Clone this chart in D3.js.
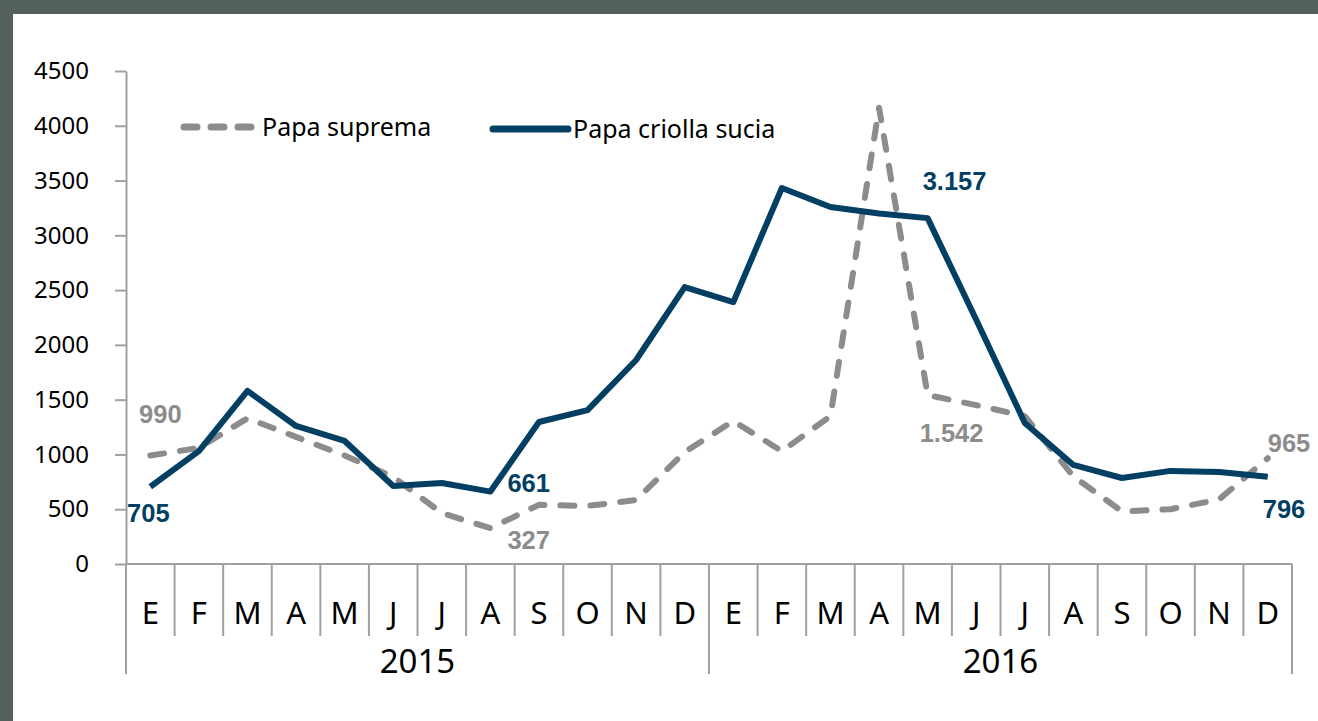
<!DOCTYPE html>
<html>
<head>
<meta charset="utf-8">
<script src="https://cdn.jsdelivr.net/npm/d3@7"></script>
<style>
  html, body { margin: 0; padding: 0; background: #53605c; }
  svg { display: block; }
</style>
</head>
<body>
<div id="chart"></div>
<script>
// Data
var months = ["E", "F", "M", "A", "M", "J", "J", "A", "S", "O", "N", "D",
              "E", "F", "M", "A", "M", "J", "J", "A", "S", "O", "N", "D"];
var years = ["2015", "2016"];
var yTicks = [0, 500, 1000, 1500, 2000, 2500, 3000, 3500, 4000, 4500];
var papaSuprema = [990, 1060, 1330, 1160, 990, 795, 465, 327, 540, 530, 584, 1022,
                   1305, 1030, 1350, 4165, 1542, 1450, 1350, 800, 480, 500, 590, 965];
var papaCriolla = [705, 1030, 1580, 1260, 1123, 712, 740, 661, 1296, 1405, 1862, 2528,
                   2391, 3432, 3258, 3200, 3157, 2230, 1287, 904, 785, 850, 840, 796];
var seriesNames = ["Papa suprema", "Papa criolla sucia"];
// which points carry a value label
var supremaLabelIdx = [0, 7, 16, 23];
var criollaLabelIdx = [0, 7, 16, 23];

(function () {
    var W = 1318, H = 721;
    var GRAY = "#8c8c8c", NAVY = "#023f63", AXIS = "#a0a0a0";

    var svg = d3.select("#chart").append("svg")
        .attr("width", W)
        .attr("height", H);

    // frame + white panel
    svg.append("rect").attr("width", W).attr("height", H).attr("fill", "#53605c");
    svg.append("rect").attr("x", 13).attr("y", 14).attr("width", W - 13).attr("height", H - 14).attr("fill", "#fff");

    var x = d3.scaleBand().domain(d3.range(months.length)).range([126, 1292]);
    var y = d3.scaleLinear().domain([0, 4500]).range([564, 71]);
    var cx = function (i) { return x(i) + x.bandwidth() / 2; };

    // labels use a dot as thousands separator (3.157)
    var fmt = d3.formatLocale({ decimal: ",", thousands: ".", grouping: [3], currency: ["$", ""] }).format(",d");

    // Y axis
    var yAxis = svg.append("g")
        .attr("transform", "translate(126,0)")
        .call(d3.axisLeft(y).tickValues(yTicks).tickFormat(d3.format("d"))
            .tickSize(11).tickPadding(26).tickSizeOuter(0));
    yAxis.select(".domain").attr("stroke", AXIS).attr("stroke-width", 2);
    yAxis.selectAll(".tick line").attr("stroke", AXIS).attr("stroke-width", 2);
    yAxis.selectAll(".tick text")
        .attr("fill", "#000")
        .style("font-family", "'Noto Sans', sans-serif")
        .style("font-size", "24px");

    // X axis baseline
    svg.append("line")
        .attr("x1", 126).attr("x2", 1292)
        .attr("y1", y(0)).attr("y2", y(0))
        .attr("stroke", AXIS).attr("stroke-width", 2);

    // category separators (long ones at year boundaries)
    var bounds = d3.range(months.length + 1);
    svg.append("g").selectAll("line")
        .data(bounds)
        .join("line")
        .attr("x1", function (b) { return x.step() * b + 126; })
        .attr("x2", function (b) { return x.step() * b + 126; })
        .attr("y1", y(0))
        .attr("y2", function (b) { return b % 12 === 0 ? 674 : 636; })
        .attr("stroke", AXIS).attr("stroke-width", 2);

    // month labels
    svg.append("g").selectAll("text")
        .data(months)
        .join("text")
        .attr("x", function (d, i) { return cx(i); })
        .attr("y", 624)
        .attr("text-anchor", "middle")
        .style("font-family", "'Noto Sans', sans-serif")
        .style("font-size", "31px")
        .text(function (d) { return d; });

    // year labels
    svg.append("g").selectAll("text")
        .data(years)
        .join("text")
        .attr("x", function (d, i) { return 126 + x.step() * (i * 12 + 6); })
        .attr("y", 673)
        .attr("text-anchor", "middle")
        .style("font-family", "'Noto Sans', sans-serif")
        .style("font-size", "33px")
        .text(function (d) { return d; });

    var line = d3.line()
        .x(function (d, i) { return cx(i); })
        .y(function (d) { return y(d); });

    // Papa suprema (dashed)
    svg.append("path")
        .datum(papaSuprema)
        .attr("d", line)
        .attr("fill", "none")
        .attr("stroke", GRAY)
        .attr("stroke-width", 6)
        .attr("stroke-linecap", "round")
        .attr("stroke-linejoin", "round")
        .attr("stroke-dasharray", "14,16");

    // Papa criolla sucia (solid)
    svg.append("path")
        .datum(papaCriolla)
        .attr("d", line)
        .attr("fill", "none")
        .attr("stroke", NAVY)
        .attr("stroke-width", 6)
        .attr("stroke-linejoin", "round");

    // value labels: [dx, dy, anchor] relative to the point
    var supremaOffsets = { 0: [10, -33, "middle"], 7: [17, 21, "start"], 16: [-8, 47, "start"], 23: [0, -6, "start"] };
    var criollaOffsets = { 0: [-2, 35, "middle"], 7: [17, 0, "start"], 16: [-5, -28, "start"], 23: [-5, 41, "start"] };

    function addLabels(values, idx, offsets, color) {
        svg.append("g").selectAll("text")
            .data(idx)
            .join("text")
            .attr("x", function (i) { return cx(i) + offsets[i][0]; })
            .attr("y", function (i) { return y(values[i]) + offsets[i][1]; })
            .attr("text-anchor", function (i) { return offsets[i][2]; })
            .attr("fill", color)
            .style("font-family", "'Liberation Sans', Arial, sans-serif")
            .style("font-weight", "bold")
            .style("font-size", "25.5px")
            .text(function (i) { return fmt(values[i]); });
    }
    addLabels(papaSuprema, supremaLabelIdx, supremaOffsets, GRAY);
    addLabels(papaCriolla, criollaLabelIdx, criollaOffsets, NAVY);

    // legend
    var legend = svg.append("g");
    legend.append("line")
        .attr("x1", 184).attr("x2", 256).attr("y1", 127).attr("y2", 127)
        .attr("stroke", GRAY).attr("stroke-width", 7)
        .attr("stroke-linecap", "round")
        .attr("stroke-dasharray", "13,14");
    legend.append("text")
        .attr("x", 262).attr("y", 136)
        .style("font-family", "'Noto Sans', sans-serif")
        .style("font-size", "25px")
        .text(seriesNames[0]);
    legend.append("line")
        .attr("x1", 493).attr("x2", 568).attr("y1", 129).attr("y2", 129)
        .attr("stroke", NAVY).attr("stroke-width", 7)
        .attr("stroke-linecap", "round");
    legend.append("text")
        .attr("x", 573).attr("y", 138)
        .style("font-family", "'Noto Sans', sans-serif")
        .style("font-size", "25px")
        .text(seriesNames[1]);
})();
</script>
</body>
</html>
